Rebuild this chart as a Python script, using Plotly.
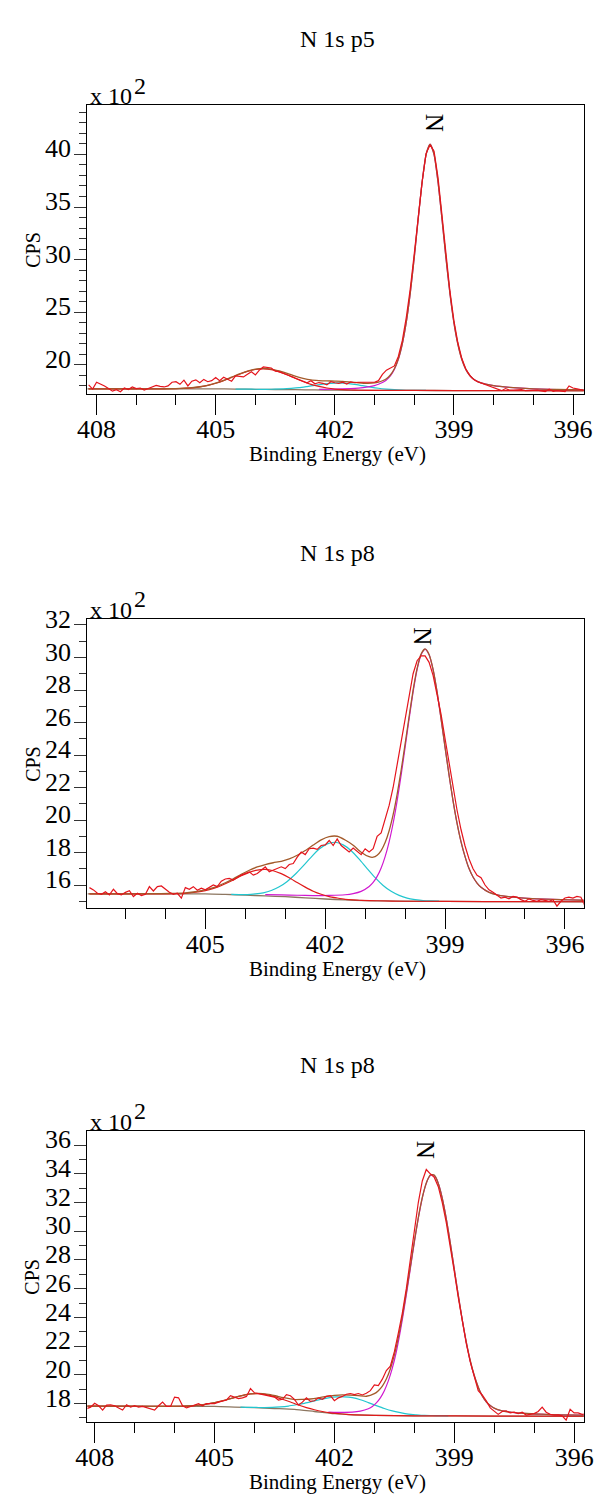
import plotly.graph_objects as go

W, H = 605, 1495

# ------------------------------------------------------------------ data
# energies of the raw spectra run from the first value downward in 0.1 eV steps
p1_start = 408.2
p1_counts = [18.1, 17.7, 18.35, 18.2, 18.0, 17.75, 17.5, 17.64, 17.45, 17.8,
             17.65, 17.9, 17.75, 17.8, 17.6, 17.75, 17.9, 18.05, 17.95, 17.9,
             18.0, 18.35, 18.4, 18.15, 18.55, 18.0, 18.45, 18.58, 18.3, 18.62,
             18.4, 18.5, 18.8, 18.5, 18.82, 18.65, 18.45, 18.95, 18.9, 18.85,
             19.1, 19.35, 19.05, 19.5, 19.8, 19.75, 19.7, 19.4, 19.35, 19.2,
             19.05, 18.9, 18.75, 18.6, 18.4, 18.3, 18.5, 18.2, 18.32, 18.25,
             18.1, 18.4, 18.3, 18.25, 18.35, 18.18, 18.38, 18.3, 18.35, 18.32,
             18.35, 18.35, 18.35, 18.5, 19.1, 19.5, 19.7, 19.9, 20.8, 22.3,
             24.5, 27.2, 30.5, 34.0, 37.4, 40.1, 40.9, 40.3, 37.8, 34.2,
             30.4, 27.0, 24.2, 22.1, 20.6, 19.6, 19.0, 18.6, 18.4, 18.25,
             18.1, 17.95, 17.8, 17.65, 17.55, 17.75, 17.6, 17.6, 17.62, 17.65,
             17.55, 17.6, 17.58, 17.6, 17.55, 17.47, 17.7, 17.48, 17.55, 17.5,
             17.47, 18.0, 17.8, 17.72, 17.62, 17.55]
p1_bg_x = [408.25, 405.0, 404.5, 404.0, 403.5, 403.0, 402.5, 402.0, 401.0, 400.0, 399.0, 395.7]
p1_bg_y = [17.72, 17.72, 17.70, 17.68, 17.66, 17.64, 17.62, 17.60, 17.58, 17.57, 17.56, 17.54]
p1_red_x = [408.2, 407.0, 406.6, 406.4, 406.2, 406.0, 405.8, 405.6, 405.4, 405.2, 405.0,
            404.8, 404.6, 404.4, 404.2, 404.0, 403.8, 403.6, 403.4, 403.2, 403.0,
            402.8, 402.6, 402.4, 402.2, 402.0, 401.8, 401.6, 401.4, 401.0, 400.0, 398.0, 395.7]
p1_red_y = [17.72, 17.72, 17.72, 17.72, 17.73, 17.74, 17.77, 17.82, 17.91, 18.05, 18.25,
            18.50, 18.80, 19.11, 19.38, 19.56, 19.62, 19.54, 19.34, 19.06, 18.73,
            18.42, 18.15, 17.95, 17.80, 17.70, 17.65, 17.61, 17.59, 17.58, 17.57, 17.55, 17.54]
p1_cyan_x = [404.5, 404.3, 404.1, 403.9, 403.7, 403.5, 403.3, 403.1, 402.9, 402.7,
             402.5, 402.3, 402.1, 401.9, 401.7, 401.5, 401.3, 401.1, 400.9, 400.7,
             400.5, 400.3, 400.1, 399.9, 399.7]
p1_cyan_y = [17.70, 17.69, 17.69, 17.68, 17.68, 17.69, 17.71, 17.76, 17.83, 17.94,
             18.06, 18.17, 18.25, 18.28, 18.24, 18.15, 18.02, 17.89, 17.78, 17.70,
             17.64, 17.60, 17.58, 17.57, 17.57]
p1_mag_x = [402.4, 402.0, 401.6, 401.4, 401.2, 401.0, 400.9, 400.8, 400.7, 400.6,
            400.5, 400.4, 400.3, 400.2, 400.1, 400.0, 399.9, 399.8, 399.7, 399.6,
            399.5, 399.4, 399.3, 399.2, 399.1, 399.0, 398.9, 398.8, 398.7, 398.6,
            398.5, 398.4, 398.2, 398.0, 397.6, 397.2, 396.8, 396.4, 395.7]
p1_mag_y = [17.68, 17.69, 17.74, 17.79, 17.88, 18.03, 18.16, 18.33, 18.57, 18.95,
            19.57, 20.52, 21.97, 24.03, 26.79, 30.16, 33.86, 37.37, 39.99, 40.97,
            39.98, 37.36, 33.85, 30.15, 26.78, 24.02, 21.96, 20.51, 19.57, 18.99,
            18.63, 18.41, 18.17, 18.02, 17.86, 17.76, 17.70, 17.66, 17.61]
p1_env_x = [408.2, 407.8, 407.4, 407.0, 406.6, 406.2, 405.8, 405.6, 405.4, 405.2, 405.0,
            404.8, 404.6, 404.4, 404.2, 404.0, 403.8, 403.6, 403.4, 403.2, 403.0,
            402.8, 402.6, 402.4, 402.2, 402.0, 401.8, 401.6, 401.4, 401.2, 401.0,
            400.9, 400.8, 400.7, 400.6, 400.5, 400.4, 400.3, 400.2, 400.1, 400.0,
            399.9, 399.8, 399.7, 399.6, 399.5, 399.4, 399.3, 399.2, 399.1, 399.0,
            398.9, 398.8, 398.7, 398.6, 398.5, 398.4, 398.2, 398.0, 397.6, 397.2,
            396.8, 396.4, 395.7]
p1_env_y = [17.72, 17.72, 17.72, 17.72, 17.72, 17.73, 17.78, 17.83, 17.92, 18.06, 18.27,
            18.52, 18.83, 19.14, 19.41, 19.60, 19.66, 19.60, 19.42, 19.20, 18.93,
            18.72, 18.57, 18.51, 18.48, 18.46, 18.44, 18.37, 18.30, 18.25, 18.28,
            18.36, 18.49, 18.69, 19.04, 19.63, 20.56, 22.00, 24.05, 26.80, 30.16,
            33.86, 37.37, 39.99, 40.97, 39.99, 37.37, 33.86, 30.16, 26.78, 24.02,
            21.96, 20.51, 19.57, 18.99, 18.63, 18.41, 18.17, 18.02, 17.86, 17.76,
            17.70, 17.66, 17.62]

p2_start = 407.9
p2_counts = [15.84, 15.70, 15.49, 15.43, 15.59, 15.39, 15.74, 15.47, 15.39, 15.55,
             15.65, 15.29, 15.49, 15.35, 15.43, 15.90, 15.63, 15.90, 15.94, 15.76,
             15.55, 15.43, 15.49, 15.19, 15.84, 15.74, 15.90, 15.68, 15.80, 15.70,
             15.84, 16.0, 15.90, 16.24, 16.37, 16.41, 16.30, 16.47, 16.61, 16.71,
             16.81, 16.61, 16.71, 16.91, 17.12, 16.81, 16.91, 17.01, 17.12, 17.01,
             17.26, 17.32, 17.72, 18.03, 17.87, 18.23, 18.27, 18.19, 18.43, 18.47,
             18.74, 18.43, 18.84, 18.43, 18.23, 18.03, 18.27, 18.07, 17.87, 18.23,
             18.03, 18.23, 19.0, 19.2, 20.0, 20.9, 22.0, 23.4, 24.9, 26.4,
             27.8, 29.0, 29.8, 30.1, 30.1, 29.7, 28.9, 27.8, 26.5, 25.0,
             23.5, 22.0, 20.6, 19.4, 18.4, 17.6, 17.0, 16.6, 16.45, 16.0,
             15.7, 15.55, 15.4, 15.2, 15.25, 15.15, 15.3, 15.25, 15.1, 15.0,
             15.15, 15.05, 15.0, 15.1, 15.05, 15.0, 15.1, 14.7, 15.0, 15.2,
             15.25, 15.2, 15.3, 15.25, 14.7]
p2_bg_x = [407.95, 405.0, 404.5, 404.0, 403.5, 403.0, 402.5, 402.0, 401.5, 401.0, 400.5, 400.0, 398.0, 395.5]
p2_bg_y = [15.45, 15.45, 15.42, 15.38, 15.33, 15.28, 15.21, 15.14, 15.08, 15.04, 15.02, 15.0, 14.98, 14.97]
p2_red_x = [407.9, 406.7, 406.3, 405.9, 405.7, 405.5, 405.3, 405.1, 404.9, 404.7,
            404.5, 404.3, 404.1, 403.9, 403.7, 403.5, 403.3, 403.1, 402.9, 402.7,
            402.5, 402.3, 402.1, 401.9, 401.7, 401.5, 401.3, 401.1, 400.7, 400.0, 398.0, 395.5]
p2_red_y = [15.45, 15.45, 15.45, 15.46, 15.47, 15.49, 15.54, 15.61, 15.72, 15.87,
            16.08, 16.31, 16.57, 16.78, 16.92, 16.96, 16.88, 16.70, 16.45, 16.15,
            15.87, 15.62, 15.43, 15.29, 15.20, 15.12, 15.08, 15.06, 15.03, 15.0, 14.98, 14.97]
p2_cyan_x = [404.35, 404.15, 403.95, 403.75, 403.55, 403.35, 403.15, 402.95, 402.75,
             402.55, 402.35, 402.15, 401.95, 401.75, 401.55, 401.35, 401.15, 400.95,
             400.75, 400.55, 400.35, 400.15, 399.95, 399.75, 399.55, 399.35, 399.15]
p2_cyan_y = [15.42, 15.41, 15.41, 15.45, 15.52, 15.66, 15.89, 16.22, 16.66,
             17.18, 17.72, 18.21, 18.53, 18.63, 18.47, 18.11, 17.59, 17.01,
             16.45, 15.97, 15.61, 15.36, 15.19, 15.10, 15.04, 15.02, 15.01]
p2_mag_x = [403.5, 403.1, 402.7, 402.3, 401.9, 401.5, 401.3, 401.1, 400.9, 400.8,
            400.7, 400.6, 400.5, 400.4, 400.3, 400.2, 400.1, 400.0, 399.9, 399.8,
            399.7, 399.6, 399.5, 399.4, 399.3, 399.2, 399.1, 399.0, 398.9, 398.8,
            398.7, 398.6, 398.5, 398.4, 398.3, 398.2, 398.1, 397.9, 397.7, 397.5,
            397.1, 396.7, 396.3, 395.5]
p2_mag_y = [15.41, 15.39, 15.37, 15.35, 15.36, 15.40, 15.47, 15.61, 15.91, 16.16,
            16.53, 17.05, 17.75, 18.66, 19.80, 21.18, 22.76, 24.47, 26.22, 27.88,
            29.26, 30.17, 30.50, 30.17, 29.26, 27.88, 26.22, 24.47, 22.76, 21.18,
            19.80, 18.66, 17.75, 17.01, 16.49, 16.12, 15.86, 15.55, 15.40, 15.31,
            15.21, 15.15, 15.11, 15.06]
p2_env_x = [407.9, 407.5, 407.1, 406.7, 406.3, 405.9, 405.5, 405.3, 405.1, 404.9,
            404.7, 404.5, 404.3, 404.1, 403.9, 403.7, 403.5, 403.3, 403.1, 402.9,
            402.7, 402.5, 402.3, 402.1, 401.9, 401.7, 401.5, 401.3, 401.1, 400.9,
            400.8, 400.7, 400.6, 400.5, 400.4, 400.3, 400.2, 400.1, 400.0, 399.9,
            399.8, 399.7, 399.6, 399.5, 399.4, 399.3, 399.2, 399.1, 399.0, 398.9,
            398.8, 398.7, 398.6, 398.5, 398.4, 398.3, 398.2, 398.1, 397.9, 397.7,
            397.5, 397.1, 396.7, 396.3, 395.9, 395.5]
p2_env_y = [15.46, 15.46, 15.46, 15.46, 15.47, 15.48, 15.52, 15.57, 15.65, 15.76,
            15.92, 16.14, 16.38, 16.66, 16.91, 17.11, 17.26, 17.37, 17.46, 17.61,
            17.83, 18.12, 18.46, 18.78, 18.98, 19.00, 18.77, 18.45, 18.02, 17.74,
            17.71, 17.83, 18.12, 18.61, 19.34, 20.33, 21.58, 23.06, 24.68, 26.37,
            27.99, 29.33, 30.22, 30.53, 30.19, 29.27, 27.89, 26.22, 24.47, 22.76,
            21.18, 19.80, 18.66, 17.75, 17.01, 16.49, 16.12, 15.86, 15.55, 15.40,
            15.31, 15.21, 15.15, 15.11, 15.08, 15.06]

p3_start = 408.2
p3_counts = [17.65, 17.75, 18.02, 17.85, 17.55, 17.9, 17.92, 17.85, 17.7, 17.55,
             17.92, 17.75, 17.85, 17.75, 17.8, 17.7, 17.65, 17.55, 17.85, 18.1,
             17.8, 17.8, 18.45, 18.4, 17.85, 17.7, 17.8, 17.9, 18.0, 17.85,
             18.0, 18.0, 18.0, 18.1, 18.2, 18.25, 18.55, 18.45, 18.35, 18.4,
             18.5, 19.05, 18.75, 18.7, 18.65, 18.6, 18.55, 18.45, 18.25, 18.3,
             18.62, 18.55, 18.3, 17.9, 18.1, 18.4, 18.15, 18.2, 18.4, 18.3,
             18.5, 18.55, 18.2, 18.4, 18.5, 18.65, 18.7, 18.62, 18.7, 18.6,
             18.72, 18.9, 19.3, 19.25, 19.7, 20.3, 20.6, 21.6, 22.9, 24.3,
             26.0, 28.0, 29.9, 32.0, 33.5, 34.3, 34.0, 33.75, 33.1, 32.0,
             30.6, 29.0, 27.2, 25.4, 23.7, 22.2, 20.9, 19.85, 18.9, 18.6,
             18.2, 17.7, 17.45, 17.25, 17.45, 17.5, 17.35, 17.4, 17.3, 17.4,
             17.2, 17.25, 17.3, 17.45, 17.75, 17.4, 17.25, 17.2, 17.22, 17.15,
             16.85, 17.6, 17.35, 17.35, 17.25, 17.3]
p3_bg_x = [408.25, 405.0, 404.5, 404.0, 403.5, 403.0, 402.5, 402.0, 401.5, 401.0, 400.0, 398.0, 395.7]
p3_bg_y = [17.82, 17.80, 17.76, 17.72, 17.66, 17.60, 17.45, 17.30, 17.22, 17.18, 17.15, 17.13, 17.12]
p3_red_x = [408.2, 406.7, 406.5, 406.3, 406.1, 405.9, 405.7, 405.5, 405.3, 405.1,
            404.9, 404.7, 404.5, 404.3, 404.1, 403.9, 403.7, 403.5, 403.3, 403.1,
            402.9, 402.7, 402.5, 402.3, 402.1, 401.9, 401.7, 401.5, 401.0, 400.0, 398.0, 395.7]
p3_red_y = [17.82, 17.81, 17.81, 17.81, 17.81, 17.81, 17.83, 17.86, 17.92, 18.01,
            18.12, 18.27, 18.42, 18.57, 18.67, 18.69, 18.63, 18.48, 18.30, 18.11,
            17.90, 17.72, 17.57, 17.45, 17.36, 17.30, 17.25, 17.22, 17.18, 17.15, 17.13, 17.12]
p3_cyan_x = [404.35, 404.15, 403.95, 403.75, 403.55, 403.35, 403.15, 402.95, 402.75,
             402.55, 402.35, 402.15, 401.95, 401.75, 401.55, 401.35, 401.15, 400.95,
             400.75, 400.55, 400.35, 400.15, 399.95, 399.75, 399.55, 399.35, 399.15]
p3_cyan_y = [17.76, 17.74, 17.73, 17.72, 17.73, 17.77, 17.83, 17.92, 18.02,
             18.15, 18.29, 18.40, 18.47, 18.47, 18.41, 18.27, 18.07, 17.86,
             17.66, 17.49, 17.37, 17.27, 17.22, 17.18, 17.17, 17.16, 17.15]
p3_mag_x = [402.15, 401.95, 401.75, 401.55, 401.35, 401.15, 401.05, 400.95, 400.85, 400.75,
            400.65, 400.55, 400.45, 400.35, 400.25, 400.15, 400.05, 399.95, 399.85, 399.75,
            399.65, 399.55, 399.45, 399.35, 399.25, 399.15, 399.05, 398.95, 398.85, 398.75,
            398.65, 398.55, 398.45, 398.35, 398.25, 398.15, 398.05, 397.95, 397.75, 397.55,
            397.15, 396.75, 396.35, 395.7]
p3_mag_y = [17.41, 17.39, 17.39, 17.40, 17.47, 17.64, 17.80, 18.05, 18.40, 18.90,
            19.58, 20.47, 21.61, 23.04, 24.68, 26.45, 28.30, 30.07, 31.64, 32.88,
            33.68, 33.95, 33.68, 32.88, 31.64, 30.07, 28.30, 26.45, 24.68, 23.03,
            21.60, 20.41, 19.52, 18.80, 18.31, 17.97, 17.76, 17.61, 17.47, 17.38,
            17.30, 17.25, 17.21, 17.19]
p3_env_x = [408.2, 407.4, 406.6, 406.2, 405.8, 405.6, 405.4, 405.2, 405.0, 404.8,
            404.6, 404.4, 404.2, 404.0, 403.8, 403.6, 403.4, 403.2, 403.0, 402.8,
            402.6, 402.4, 402.2, 402.0, 401.8, 401.6, 401.4, 401.2, 401.0, 400.9,
            400.8, 400.7, 400.6, 400.5, 400.4, 400.3, 400.2, 400.1, 400.0, 399.9,
            399.8, 399.7, 399.6, 399.5, 399.4, 399.3, 399.2, 399.1, 399.0, 398.9,
            398.8, 398.7, 398.6, 398.5, 398.4, 398.3, 398.2, 398.1, 398.0,
            397.8, 397.6, 397.2, 396.8, 396.4, 395.7]
p3_env_y = [17.82, 17.82, 17.81, 17.81, 17.82, 17.85, 17.89, 17.96, 18.07, 18.19,
            18.35, 18.50, 18.63, 18.70, 18.70, 18.63, 18.49, 18.38, 18.28, 18.29,
            18.32, 18.40, 18.50, 18.57, 18.61, 18.59, 18.56, 18.51, 18.69, 18.90,
            19.22, 19.71, 20.41, 21.37, 22.59, 24.07, 25.74, 27.50, 29.30, 30.95,
            32.35, 33.36, 33.92, 33.91, 33.33, 32.29, 30.87, 29.19, 27.36, 25.55,
            23.83, 22.30, 21.00, 19.97, 19.15, 18.53, 18.13, 17.86, 17.68,
            17.49, 17.40, 17.31, 17.26, 17.22, 17.19]

titles = ["N 1s p5", "N 1s p8", "N 1s p8"]
peak_label = "N"
peak_label_pos = [(399.5, 43.0), (399.55, 31.3), (399.7, 35.65)]
x_title = "Binding Energy (eV)"
y_title = "CPS"
x_ticks = [408, 405, 402, 399, 396]

# ------------------------------------------------------------------ layout geometry (pixels)
frame_left, frame_right = 78.3, 593.3
frames = [(92.2, 383.4), (610.7, 902.7), (1127.7, 1421.0)]          # top, bottom
x_ranges = [(408.23, 395.73), (407.95, 395.53), (408.18, 395.76)]
y_ranges = [(17.25, 44.66), (14.57, 32.37), (16.74, 36.97)]
y_dticks = [5, 2, 2]

FONT = "Liberation Serif"
RAW_C = "#e5141c"
ENV_C = "#a35a2a"
RED_C = "#e01a1a"
CYAN_C = "#22c6cf"
MAG_C = "#d018d0"
BG_C = "#8c7660"


def grid(start, n):
    return [round(start - 0.1 * i, 2) for i in range(n)]


panels = [
    dict(start=p1_start, counts=p1_counts, bg=(p1_bg_x, p1_bg_y), red=(p1_red_x, p1_red_y),
         cyan=(p1_cyan_x, p1_cyan_y), mag=(p1_mag_x, p1_mag_y), env=(p1_env_x, p1_env_y)),
    dict(start=p2_start, counts=p2_counts, bg=(p2_bg_x, p2_bg_y), red=(p2_red_x, p2_red_y),
         cyan=(p2_cyan_x, p2_cyan_y), mag=(p2_mag_x, p2_mag_y), env=(p2_env_x, p2_env_y)),
    dict(start=p3_start, counts=p3_counts, bg=(p3_bg_x, p3_bg_y), red=(p3_red_x, p3_red_y),
         cyan=(p3_cyan_x, p3_cyan_y), mag=(p3_mag_x, p3_mag_y), env=(p3_env_x, p3_env_y)),
]

fig = go.Figure()


def px(xp):
    return xp / W


def py(yp):
    return 1 - yp / H


annotations = []
for i, p in enumerate(panels):
    n = i + 1
    xa = "x" if n == 1 else f"x{n}"
    ya = "y" if n == 1 else f"y{n}"
    smooth = dict(shape="spline", smoothing=0.6)
    for key, col, w in [("bg", BG_C, 1.3), ("cyan", CYAN_C, 1.2), ("mag", MAG_C, 1.2),
                        ("red", RED_C, 1.2), ("env", ENV_C, 1.3)]:
        xs, ys = p[key]
        fig.add_trace(go.Scatter(x=xs, y=ys, mode="lines", xaxis=xa, yaxis=ya,
                                 line=dict(color=col, width=w, **smooth),
                                 showlegend=False, hoverinfo="skip"))
    fig.add_trace(go.Scatter(x=grid(p["start"], len(p["counts"])), y=p["counts"],
                             mode="lines", xaxis=xa, yaxis=ya,
                             line=dict(color=RAW_C, width=1.2),
                             showlegend=False, hoverinfo="skip"))

    top, bot = frames[i]
    xkey = "xaxis" if n == 1 else f"xaxis{n}"
    ykey = "yaxis" if n == 1 else f"yaxis{n}"
    fig.update_layout(**{
        xkey: dict(domain=[px(frame_left), px(frame_right)], anchor=ya,
                   range=list(x_ranges[i]), tickmode="array", tickvals=x_ticks,
                   ticktext=[str(v) for v in x_ticks],
                   ticks="outside", ticklen=20, tickwidth=1.3, tickcolor="black",
                   minor=dict(ticks="outside", ticklen=10, tickwidth=1.2, tickcolor="black",
                              tickmode="linear", tick0=396, dtick=1, showgrid=False),
                   showline=True, linecolor="black", linewidth=1.3, mirror=True,
                   showgrid=False, zeroline=False, ticklabelstandoff=-8,
                   tickfont=dict(family=FONT, size=26, color="black")),
        ykey: dict(domain=[py(bot), py(top)], anchor=xa,
                   range=list(y_ranges[i]), tickmode="linear", tick0=0, dtick=y_dticks[i],
                   ticks="outside", ticklen=12, tickwidth=1.2, tickcolor="#333",
                   minor=dict(ticks="outside", ticklen=7, tickwidth=1.1, tickcolor="#333",
                              tickmode="linear", tick0=0, dtick=1, showgrid=False),
                   showline=True, linecolor="black", linewidth=1.3, mirror=True,
                   showgrid=False, zeroline=False, ticklabelshift=-6, ticklabelstandoff=-2,
                   tickfont=dict(family=FONT, size=26, color="black")),
    })

    cx = (frame_left + frame_right) / 2 + 2
    annotations += [
        dict(text=titles[i], x=px(cx), y=py(top - 67), xref="paper", yref="paper",
             showarrow=False, font=dict(family=FONT, size=24, color="black"),
             xanchor="center", yanchor="middle"),
        dict(text="x 10", x=px(frame_left + 1), y=py(top - 9), xref="paper", yref="paper",
             showarrow=False, font=dict(family=FONT, size=24, color="black"),
             xanchor="left", yanchor="middle"),
        dict(text="2", x=px(frame_left + 46), y=py(top - 20), xref="paper", yref="paper",
             showarrow=False, font=dict(family=FONT, size=24, color="black"),
             xanchor="left", yanchor="middle"),
        dict(text=x_title, x=px(cx), y=py(bot + 61), xref="paper", yref="paper",
             showarrow=False, font=dict(family=FONT, size=21, color="black"),
             xanchor="center", yanchor="middle"),
        dict(text=y_title, x=px(21), y=py((top + bot) / 2), xref="paper", yref="paper",
             showarrow=False, textangle=-90, font=dict(family=FONT, size=20, color="black"),
             xanchor="center", yanchor="middle"),
        dict(text=peak_label, x=peak_label_pos[i][0], y=peak_label_pos[i][1], xref=xa, yref=ya,
             showarrow=False, textangle=90, font=dict(family=FONT, size=25, color="black"),
             xanchor="center", yanchor="middle"),
    ]

fig.update_layout(width=W, height=H, margin=dict(l=0, r=0, t=0, b=0),
                  paper_bgcolor="white", plot_bgcolor="white",
                  annotations=annotations, showlegend=False)

fig.write_html("out.html")
